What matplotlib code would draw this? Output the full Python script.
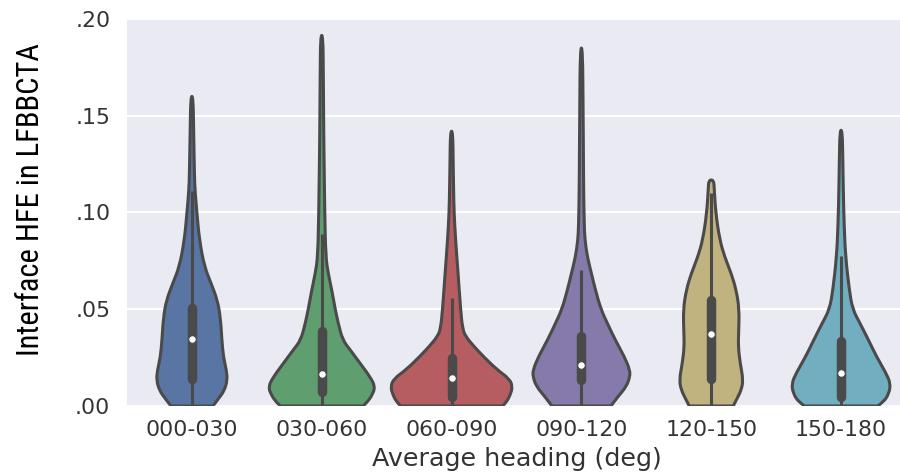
import matplotlib
matplotlib.use("Agg")
import matplotlib.pyplot as plt
from matplotlib.path import Path
from matplotlib.patches import PathPatch
from matplotlib import font_manager
import seaborn as sns

# ---------------- data ----------------
categories = ["000-030", "030-060", "060-090", "090-120", "120-150", "150-180"]
ytick_values = [0.00, 0.05, 0.10, 0.15, 0.20]
ytick_labels = [".00", ".05", ".10", ".15", ".20"]

# violin outlines: value levels and kernel density (arbitrary units)
lv_000_030 = [0, 0.004, 0.008, 0.0134, 0.0186, 0.0255, 0.034, 0.046, 0.0547, 0.063, 0.072, 0.0858, 0.0997, 0.112, 0.12, 0.14, 0.160]
dn_000_030 = [21, 27, 32.5, 35.5, 34.5, 31.5, 30, 28.5, 25.5, 19.5, 12.5, 7.5, 5, 3, 2.5, 1.8, 1.2]

lv_030_060 = [0, 0.002, 0.0056, 0.010, 0.015, 0.022, 0.029, 0.034, 0.0427, 0.050, 0.060, 0.0685, 0.077, 0.0997, 0.12, 0.14, 0.17, 0.1915]
dn_030_060 = [41.5, 45.5, 50.5, 53.5, 48.5, 38.5, 28.5, 21, 16.5, 13.5, 10, 6.5, 4, 3, 2.5, 2, 1.6, 1.2]

lv_060_090 = [0, 0.002, 0.006, 0.010, 0.014, 0.019, 0.0255, 0.031, 0.036, 0.040, 0.050, 0.0685, 0.0858, 0.0997, 0.112, 0.125, 0.142]
dn_060_090 = [51, 55, 59, 61, 58, 45, 32, 22, 14, 11, 9, 6.5, 4, 2.5, 2, 1.6, 1.2]

lv_090_120 = [0, 0.0048, 0.010, 0.015, 0.0186, 0.0255, 0.034, 0.0427, 0.050, 0.060, 0.0685, 0.077, 0.0858, 0.094, 0.112, 0.13, 0.15, 0.185]
dn_090_120 = [29.5, 36.5, 45, 48.5, 48.5, 43, 34, 26, 19.5, 14, 10, 6, 3.5, 2.8, 2.2, 2, 1.7, 1.2]

lv_120_150 = [0, 0.004, 0.0082, 0.0134, 0.022, 0.0306, 0.039, 0.050, 0.060, 0.0685, 0.077, 0.0858, 0.0997, 0.112, 0.1168]
dn_120_150 = [22, 26, 30, 32, 29, 27, 27.5, 28, 25, 20, 13.5, 8.5, 4.5, 3, 2.5]

lv_150_180 = [0, 0.002, 0.0065, 0.0116, 0.017, 0.0255, 0.034, 0.0427, 0.050, 0.060, 0.077, 0.094, 0.112, 0.125, 0.1425]
dn_150_180 = [36.5, 42.5, 48, 49.5, 45, 35.5, 27.5, 19, 11.5, 8.2, 4.5, 3, 2.2, 1.8, 1.2]

levels = [lv_000_030, lv_030_060, lv_060_090, lv_090_120, lv_120_150, lv_150_180]
densities = [dn_000_030, dn_030_060, dn_060_090, dn_090_120, dn_120_150, dn_150_180]

# inner box statistics
q1 = [0.0142, 0.0070, 0.0045, 0.0132, 0.0141, 0.0045]
median = [0.0346, 0.0163, 0.0143, 0.0210, 0.0372, 0.0168]
q3 = [0.0505, 0.0386, 0.0246, 0.0360, 0.0546, 0.0336]
whisker_lo = [0.0, 0.0, 0.0, 0.0, 0.0, 0.0]
whisker_hi = [0.111, 0.089, 0.0556, 0.0703, 0.110, 0.0777]

# ---------------- style ----------------
base_colors = ["#4C72B0", "#55A868", "#C44E52", "#8172B2", "#CCB974", "#64B5CD"]
fills = [sns.desaturate(c, 0.75) for c in base_colors]
gray = "#4a4a4a"
density_scale = 1 / 130.0   # density units -> category width units
lw = 2.2


def pick_font(names):
    for n in names:
        try:
            font_manager.findfont(font_manager.FontProperties(family=n),
                                  fallback_to_default=False)
            return n
        except Exception:
            continue
    return "DejaVu Sans"


narrow_candidates = ["Liberation Sans Narrow", "Roboto Condensed", "Open Sans Condensed",
                     "Noto Sans Condensed", "DejaVu Sans Condensed"]
narrow = pick_font(narrow_candidates)
ylabel_size = {"Liberation Sans Narrow": 22, "Roboto Condensed": 22,
               "Open Sans Condensed": 21, "Noto Sans Condensed": 21,
               "DejaVu Sans Condensed": 19.5}.get(narrow, 17.5)

fig = plt.figure(figsize=(9, 4.75), dpi=100)
ax = fig.add_axes([127 / 900, 1 - 406 / 475, (906 - 127) / 900, (406 - 19) / 475])
ax.set_facecolor("#EAEAF2")
for s in ax.spines.values():
    s.set_visible(False)
ax.set_axisbelow(True)
ax.yaxis.grid(True, color="white", linewidth=1.5)
ax.xaxis.grid(False)


def smooth_outline(xs, ys):
    verts = [(xs[0], ys[0])]
    codes = [Path.MOVETO]
    n = len(xs)
    for i in range(1, n - 1):
        if i == n - 2:
            nx, ny = xs[-1], ys[-1]
        else:
            nx, ny = (xs[i] + xs[i + 1]) / 2, (ys[i] + ys[i + 1]) / 2
        verts += [(xs[i], ys[i]), (nx, ny)]
        codes += [Path.CURVE3, Path.CURVE3]
    verts.append((xs[0], ys[0]))
    codes.append(Path.LINETO)
    verts.append((xs[0], ys[0]))
    codes.append(Path.CLOSEPOLY)
    return Path(verts, codes)


for i, (lv, dn) in enumerate(zip(levels, densities)):
    hw = [d * density_scale for d in dn]
    xs = [i - h for h in hw] + [i + h for h in reversed(hw)]
    ys = list(lv) + list(reversed(lv))
    patch = PathPatch(smooth_outline(xs, ys), facecolor=fills[i], edgecolor=gray,
                      linewidth=lw, joinstyle="round", zorder=2)
    ax.add_patch(patch)
    ax.plot([i, i], [whisker_lo[i], whisker_hi[i]], color=gray, linewidth=lw,
            solid_capstyle="butt", zorder=3)
    ax.plot([i, i], [q1[i], q3[i]], color=gray, linewidth=lw * 3.1,
            solid_capstyle="round", zorder=3)
    ax.scatter([i], [median[i]], s=30, color="white", edgecolors=gray,
               linewidths=0.8, zorder=4)

ax.set_xlim(-0.5, len(categories) - 0.5)
ax.set_ylim(0, 0.20)
ax.set_xticks(range(len(categories)))
ax.set_xticklabels(categories)
ax.set_yticks(ytick_values)
ax.set_yticklabels(ytick_labels)
ax.tick_params(axis="both", length=0, labelsize=15.8, labelcolor="#333333")
ax.tick_params(axis="x", pad=10)
ax.tick_params(axis="y", pad=12)
ax.set_xlabel("Average heading (deg)", fontsize=18.3, color="#333333", labelpad=5)

fig.text(31 / 900, 1 - 200 / 475, "Interface HFE in LFBBCTA", rotation=90,
         ha="center", va="center", fontsize=ylabel_size, color="black",
         family=[narrow, "DejaVu Sans"])

fig.savefig("out.png", dpi=100)
